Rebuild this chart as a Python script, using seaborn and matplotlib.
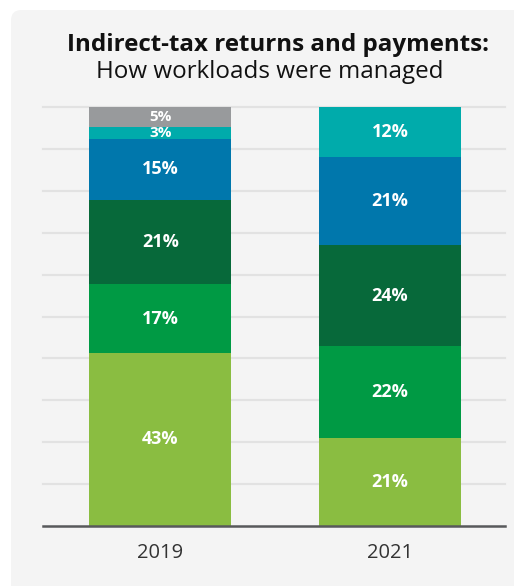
import matplotlib
matplotlib.use("Agg")
import matplotlib.pyplot as plt
from matplotlib.patches import FancyBboxPatch
import numpy as np
import pandas as pd
import seaborn as sns

# ---- data -------------------------------------------------------------
years = ["2019", "2021"]
segments = ["Segment 1", "Segment 2", "Segment 3", "Segment 4", "Segment 5", "Segment 6"]
share_2019 = [43, 17, 21, 15, 3, 5]
share_2021 = [21, 22, 24, 21, 12, 0]
segment_colors = ["#8ABD41", "#009A44", "#07693A", "#0077AC", "#00ABAB", "#989A9C"]

title_line1 = "Indirect-tax returns and payments:"
title_line2 = "How workloads were managed"

# ---- figure -----------------------------------------------------------
W, H = 514, 586
fig = plt.figure(figsize=(W / 100, H / 100), dpi=100)
fig.patch.set_facecolor("white")

# rounded light-grey panel behind everything
panel = FancyBboxPatch((11 / W, -0.05), 1.0, 1.05 - 10 / H,
                       boxstyle="round,pad=0,rounding_size=0.02",
                       transform=fig.transFigure, facecolor="#F4F4F4",
                       edgecolor="none", zorder=-10, mutation_aspect=W / H)
fig.patches.append(panel)

ax = fig.add_axes([43 / W, (H - 526) / H, 462 / W, 419 / H])
ax.set_facecolor("none")

# each bar is drawn as a share of its own total (stacked to 100)
table = pd.DataFrame({"year": years})
raw = {"2019": share_2019, "2021": share_2021}
for i, seg in enumerate(segments):
    table[seg] = [raw[y][i] for y in years]
totals = table[segments].sum(axis=1)
norm = table[segments].div(totals, axis=0) * 100
cum = norm.cumsum(axis=1)

# seaborn stacked bars: draw cumulative heights from the top layer down
for i in reversed(range(len(segments))):
    seg = segments[i]
    frame = pd.DataFrame({"year": years, "value": cum[seg].values})
    sns.barplot(data=frame, x="year", y="value", color=segment_colors[i],
                width=0.617, saturation=1, ax=ax, linewidth=0, zorder=3)

# value labels in each segment
for j, y in enumerate(years):
    base = 0
    for i, seg in enumerate(segments):
        v = raw[y][i]
        h = norm.loc[j, seg]
        if v > 0:
            size = 13 if v >= 10 else 11
            ax.text(j, base + h / 2, f"{v}%", ha="center", va="center",
                    color="white", fontsize=size, fontweight="bold",
                    family="Open Sans", zorder=5)
        base += h

ax.set_xlim(-0.51, 1.5)
ax.set_ylim(0, 100)
ax.set_yticks(np.arange(10, 101, 10))
ax.yaxis.grid(True, color="#E2E2E2", linewidth=1.6, zorder=0)
for gl in ax.get_ygridlines():
    gl.set_clip_on(False)
ax.set_axisbelow(True)
ax.tick_params(axis="y", left=False, labelleft=False)
ax.tick_params(axis="x", bottom=False, pad=9, labelsize=14.5, labelcolor="#333333")
for lbl in ax.get_xticklabels():
    lbl.set_family("Open Sans")
ax.set_xlabel("")
ax.set_ylabel("")
for s in ["top", "right", "left"]:
    ax.spines[s].set_visible(False)
ax.spines["bottom"].set_color("#58595B")
ax.spines["bottom"].set_linewidth(1.8)
ax.spines["bottom"].set_zorder(6)

fig.text(278 / W, 1 - 45 / H, title_line1, ha="center", va="center",
         fontsize=17.4, fontweight="bold", family="Open Sans", color="#111111")
fig.text(270 / W, 1 - 72 / H, title_line2, ha="center", va="center",
         fontsize=17.4, family="Open Sans", color="#111111")

fig.savefig("out.png", dpi=100)
